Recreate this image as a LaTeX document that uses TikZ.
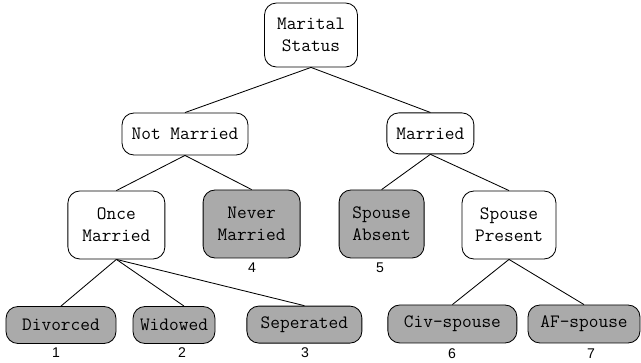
\documentclass[tikz,border=0pt]{standalone}
\usepackage{fontspec}
\setsansfont{Liberation Sans}
\tikzset{
  box/.style={draw,rounded corners=8.5pt,align=center,line width=0.6pt,inner sep=0pt,
    font=\fontsize{13.4}{15.6}\selectfont\ttfamily},
  leaf/.style={box,fill={rgb,255:red,170;green,170;blue,170}},
  num/.style={inner sep=0pt,font=\fontsize{10}{12}\selectfont\sffamily},
  link/.style={line width=0.6pt}
}
\begin{document}
\begin{tikzpicture}
\useasboundingbox (0,0) rectangle (16.025,9.075);
\node[box,minimum width=2.325cm,minimum height=1.6cm](ms) at(7.775,8.2){Marital\\Status};
\node[box,minimum width=3.15cm,minimum height=1.05cm](nm) at(4.625,5.725){Not Married};
\node[box,minimum width=2.175cm,minimum height=1.025cm](m) at(10.76,5.74){Married};
\node[box,minimum width=2.425cm,minimum height=1.7cm](om) at(2.91,3.45){Once\\Married};
\node[leaf,minimum width=2.425cm,minimum height=1.7cm](nvm) at(6.29,3.475){Never\\Married};
\node[leaf,minimum width=2.125cm,minimum height=1.7cm](sa) at(9.54,3.475){Spouse\\Absent};
\node[box,minimum width=2.35cm,minimum height=1.7cm](sp) at(12.725,3.45){Spouse\\Present};
\node[leaf,minimum width=2.75cm,minimum height=0.925cm](div) at(1.525,0.95){Divorced};
\node[leaf,minimum width=2.05cm,minimum height=0.925cm](wid) at(4.35,0.95){Widowed};
\node[leaf,minimum width=2.875cm,minimum height=0.925cm](sep) at(7.61,0.96){Seperated};
\node[leaf,minimum width=3.225cm,minimum height=0.95cm](civ) at(11.31,0.975){Civ-spouse};
\node[leaf,minimum width=2.8cm,minimum height=0.95cm](af) at(14.6,0.975){AF-spouse};
% leaf numbers
\node[num](n1) at(1.4,0.25){1};
\node[num](n2) at(4.55,0.25){2};
\node[num](n3) at(7.625,0.25){3};
\node[num](n4) at(6.3,2.375){4};
\node[num](n5) at(9.5,2.375){5};
\node[num](n6) at(11.3,0.225){6};
\node[num](n7) at(14.775,0.225){7};
% tree edges
\draw[link](ms.south)--(nm.north);
\draw[link](ms.south)--(m.north);
\draw[link](nm.south)--(om.north);
\draw[link](nm.south)--(nvm.north);
\draw[link](m.south)--(sa.north);
\draw[link](m.south)--(sp.north);
\draw[link](om.south)--(div.north);
\draw[link](om.south)--([xshift=0.25cm]wid.north);
\draw[link](om.south)--(sep.north);
\draw[link](sp.south)--(civ.north);
\draw[link](sp.south)--(af.north);
\end{tikzpicture}
\end{document}
